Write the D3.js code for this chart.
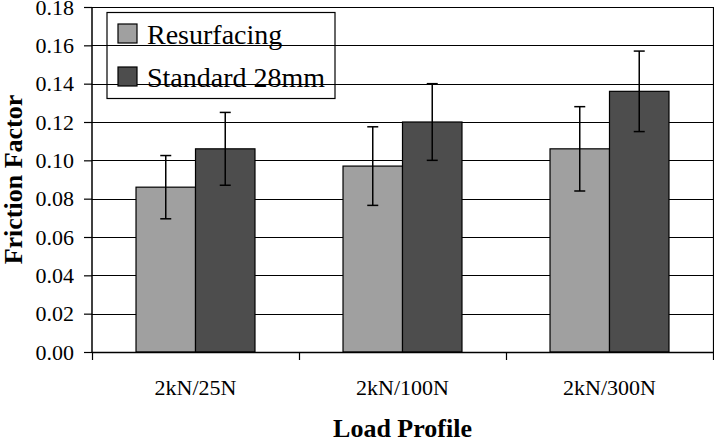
<!DOCTYPE html>
<html>
<head>
<meta charset="utf-8">
<script src="https://cdn.jsdelivr.net/npm/d3@7"></script>
<style>
  html, body { margin: 0; padding: 0; background: #fff; }
  svg { display: block; }
  svg text { font-family: "Liberation Serif", "Times New Roman", serif !important; fill: #000; }
</style>
</head>
<body>
<svg id="chart" width="714" height="440"></svg>
<script>
const categories = ["2kN/25N", "2kN/100N", "2kN/300N"];
const seriesNames = ["Resurfacing", "Standard 28mm"];
const resurfacing = [0.086, 0.097, 0.106];
const resurfacingErr = [0.0165, 0.0205, 0.022];
const standard28 = [0.106, 0.120, 0.136];
const standard28Err = [0.019, 0.020, 0.021];
const yTicks = [0, 0.02, 0.04, 0.06, 0.08, 0.10, 0.12, 0.14, 0.16, 0.18];
const colors = ["#a0a0a0", "#4d4d4d"];

(function () {
const svg = d3.select("#chart");
const mLeft = 92, mRight = 713, mTop = 7, mBottom = 352;

const x = d3.scaleBand().domain(categories).range([mLeft, mRight]).padding(0);
const xs = d3.scaleBand().domain(seriesNames).range([0, x.bandwidth()]).paddingInner(0).paddingOuter(0.74);
const y = d3.scaleLinear().domain([0, 0.18]).range([mBottom, mTop]);

const rows = categories.map((c, i) => ({
  cat: c,
  vals: [
    { s: seriesNames[0], v: resurfacing[i], e: resurfacingErr[i], color: colors[0] },
    { s: seriesNames[1], v: standard28[i], e: standard28Err[i], color: colors[1] }
  ]
}));

// gridlines
svg.append("g").selectAll("line").data(yTicks.filter(t => t > 0)).join("line")
  .attr("x1", mLeft).attr("x2", mRight)
  .attr("y1", d => Math.round(y(d)) + 0.5).attr("y2", d => Math.round(y(d)) + 0.5)
  .attr("stroke", "#000").attr("stroke-width", 1.2);

// right border
svg.append("line").attr("x1", mRight + 0.5).attr("x2", mRight + 0.5)
  .attr("y1", y(0.18)).attr("y2", mBottom).attr("stroke", "#000").attr("stroke-width", 1.2);

// bars
const groups = svg.append("g").selectAll("g").data(rows).join("g")
  .attr("transform", d => `translate(${x(d.cat)},0)`);

groups.selectAll("rect").data(d => d.vals).join("rect")
  .attr("x", d => xs(d.s))
  .attr("y", d => y(d.v))
  .attr("width", xs.bandwidth())
  .attr("height", d => y(0) - y(d.v))
  .attr("fill", d => d.color)
  .attr("stroke", "#000").attr("stroke-width", 1.2);

// error bars
const eb = groups.selectAll("g.err").data(d => d.vals).join("g").attr("class", "err");
const cx = d => xs(d.s) + xs.bandwidth() / 2;
eb.append("line")
  .attr("x1", cx).attr("x2", cx)
  .attr("y1", d => y(d.v + d.e)).attr("y2", d => y(d.v - d.e))
  .attr("stroke", "#000").attr("stroke-width", 1.5);
eb.append("line")
  .attr("x1", d => cx(d) - 5.5).attr("x2", d => cx(d) + 5.5)
  .attr("y1", d => y(d.v + d.e)).attr("y2", d => y(d.v + d.e))
  .attr("stroke", "#000").attr("stroke-width", 1.5);
eb.append("line")
  .attr("x1", d => cx(d) - 5.5).attr("x2", d => cx(d) + 5.5)
  .attr("y1", d => y(d.v - d.e)).attr("y2", d => y(d.v - d.e))
  .attr("stroke", "#000").attr("stroke-width", 1.5);

// y axis
const yAxis = d3.axisLeft(y).tickValues(yTicks).tickFormat(d3.format(".2f")).tickSize(8).tickPadding(10);
const gy = svg.append("g").attr("transform", `translate(${mLeft},0)`).call(yAxis);
gy.attr("font-family", null).attr("font-size", null);
gy.select(".domain").attr("stroke", "#000").attr("stroke-width", 1.5).attr("d", `M0,${mTop}V${mBottom}`);
gy.selectAll(".tick line").attr("stroke", "#000").attr("stroke-width", 1.2);
gy.selectAll(".tick text").attr("font-size", 22).attr("fill", "#000");

// x axis
const gx = svg.append("g").attr("transform", `translate(0,${mBottom})`);
gx.append("line").attr("x1", mLeft).attr("x2", mRight + 1).attr("y1", 0.5).attr("y2", 0.5)
  .attr("stroke", "#000").attr("stroke-width", 1.5);
const boundaries = categories.map(c => x(c)).concat([x(categories[categories.length - 1]) + x.bandwidth()]);
gx.selectAll("line.tk").data(boundaries).join("line").attr("class", "tk")
  .attr("x1", d => d + 0.5).attr("x2", d => d + 0.5).attr("y1", 0).attr("y2", 8)
  .attr("stroke", "#000").attr("stroke-width", 1.2);
gx.selectAll("text").data(categories).join("text")
  .attr("x", d => x(d) + x.bandwidth() / 2).attr("y", 43)
  .attr("text-anchor", "middle").attr("font-size", 22)
  .text(d => d);

// axis titles
svg.append("text").attr("x", (mLeft + mRight) / 2).attr("y", 437)
  .attr("text-anchor", "middle").attr("font-size", 26).attr("font-weight", "bold")
  .text("Load Profile");
svg.append("text").attr("transform", `translate(22,${(mTop + mBottom) / 2}) rotate(-90)`)
  .attr("text-anchor", "middle").attr("font-size", 26).attr("font-weight", "bold")
  .text("Friction Factor");

// legend
const lg = svg.append("g");
lg.append("rect").attr("x", 107).attr("y", 12.5).attr("width", 228).attr("height", 86)
  .attr("fill", "none").attr("stroke", "#000").attr("stroke-width", 1.2);
const li = lg.selectAll("g.li").data(seriesNames).join("g").attr("class", "li")
  .attr("transform", (d, i) => `translate(118,${24 + i * 43})`);
li.append("rect").attr("width", 19).attr("height", 19)
  .attr("fill", (d, i) => colors[i]).attr("stroke", "#000").attr("stroke-width", 1.2);
li.append("text").attr("x", 29).attr("y", 20).attr("font-size", 28)
  .text(d => d);
})();
</script>
</body>
</html>
